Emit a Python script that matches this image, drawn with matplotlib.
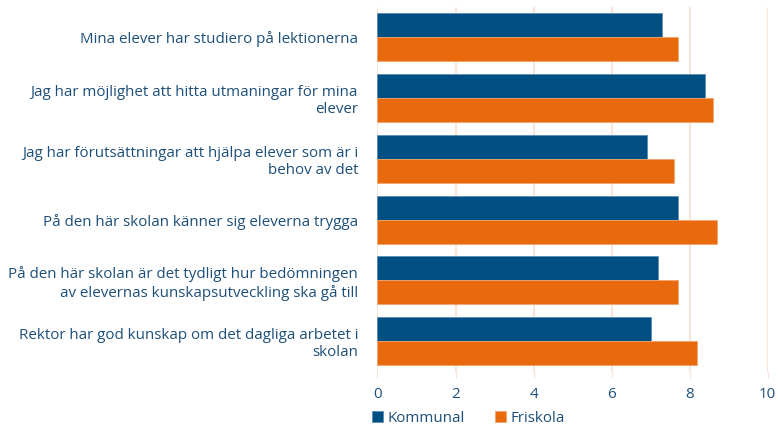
import numpy as np
import matplotlib.pyplot as plt

plt.rcParams['font.family'] = ['Open Sans', 'DejaVu Sans']

categories = [
    "Mina elever har studiero på lektionerna",
    "Jag har möjlighet att hitta utmaningar för mina\nelever",
    "Jag har förutsättningar att hjälpa elever som är i\nbehov av det",
    "På den här skolan känner sig eleverna trygga",
    "På den här skolan är det tydligt hur bedömningen\nav elevernas kunskapsutveckling ska gå till",
    "Rektor har god kunskap om det dagliga arbetet i\nskolan",
]
kommunal = [7.3, 8.4, 6.9, 7.7, 7.2, 7.0]
friskola = [7.7, 8.6, 7.6, 8.7, 7.7, 8.2]

blue = "#004f83"
orange = "#e96a0c"
text_col = "#1d4f7a"
grid_col = "#fbe0d2"

fig = plt.figure(figsize=(7.78, 4.29), dpi=100)
ax = fig.add_axes([0.4852, 0.1336, 0.5016, 0.8508])

y = np.arange(len(categories))
h = 0.395
ax.barh(y - h / 2, kommunal, height=h, color=blue, edgecolor="#5a8db5", linewidth=0.6, label="Kommunal", zorder=3)
ax.barh(y + h / 2, friskola, height=h, color=orange, edgecolor="#f3a46c", linewidth=0.6, label="Friskola", zorder=3)

ax.set_ylim(len(categories) - 0.5, -0.5)
ax.set_xlim(0, 10)
ax.set_xticks(range(0, 11, 2))
ax.set_yticks(y)
ax.set_yticklabels(categories, ha="right", multialignment="right", fontsize=10.9, color=text_col)
ax.tick_params(axis="y", length=0, pad=14)
ax.tick_params(axis="x", length=4, color=grid_col, labelsize=10.9, labelcolor=text_col, pad=7)
ax.grid(axis="x", color=grid_col, linewidth=1.2, zorder=0)
for s in ax.spines.values():
    s.set_visible(False)

ax.legend(loc="upper left", bbox_to_anchor=(-0.048, -0.07), ncol=2, frameon=False,
          fontsize=10.9, labelcolor=text_col, handlelength=0.7, handleheight=0.7,
          handletextpad=0.3, columnspacing=2.0)

fig.savefig("out.png", dpi=100)
